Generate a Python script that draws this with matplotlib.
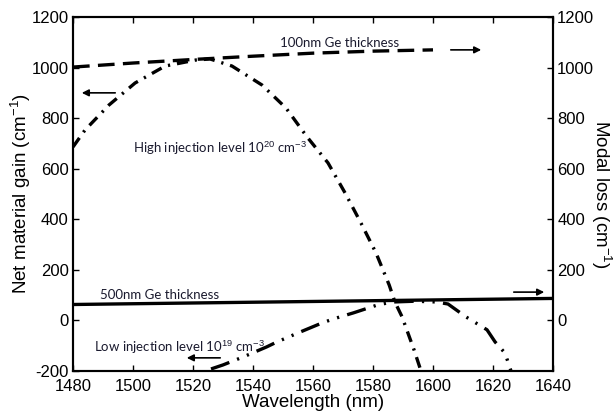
import matplotlib
matplotlib.use("Agg")
import matplotlib.pyplot as plt
import numpy as np

plt.rcParams['axes.unicode_minus'] = False
plt.rcParams['lines.scale_dashes'] = False
plt.rcParams['font.family'] = ['Liberation Sans', 'DejaVu Sans']
plt.rcParams['mathtext.fontset'] = 'custom'
plt.rcParams['mathtext.rm'] = 'Liberation Sans'

# Data
wl_100nm = [1480, 1500, 1520, 1540, 1560, 1580, 1600]
loss_100nm = [1002, 1018, 1032, 1045, 1057, 1065, 1070]

wl_500nm = [1480, 1640]
loss_500nm = [63, 87]

wl_high = [1480, 1484, 1492, 1500.7, 1510.7, 1521, 1525.7, 1533, 1543, 1551, 1558,
           1565, 1570.7, 1576, 1581, 1585.4, 1587.3, 1589.7, 1593.7, 1596]
gain_high = [686, 753, 852, 939, 1006, 1030, 1034, 1006, 931, 840, 726,
             623, 504, 385, 267, 140, 73, 14, -117, -200]

wl_low = [1526, 1530, 1536.8, 1544.5, 1548, 1555.7, 1563, 1566.8, 1573.5, 1581.7, 1586.7,
          1594, 1601, 1605, 1611, 1618, 1620.7, 1624, 1626]
gain_low = [-192, -176, -144, -105, -85, -46, -10, 6, 30, 62, 73,
            76, 73, 65, 14, -37, -85, -129, -200]

fig = plt.figure(figsize=(6.13, 4.19), dpi=100)
ax = fig.add_axes([73/613, 1-371/419, 480/613, 354/419])

ax.plot(wl_high, gain_high, color='black', lw=2.4, dashes=[8, 5, 1.6, 5])
ax.plot(wl_low, gain_low, color='black', lw=2.4, dashes=[14, 6, 1.6, 6, 1.6, 6])
ax.plot(wl_100nm, loss_100nm, color='black', lw=2.4, dashes=[12, 6])
ax.plot(wl_500nm, loss_500nm, color='black', lw=2.4)

ax.set_xlim(1480, 1640)
ax.set_ylim(-200, 1200)
ax.set_xticks(np.arange(1480, 1641, 20))
ax.set_yticks(np.arange(-200, 1201, 200))

ax2 = ax.twinx()
ax2.set_ylim(-200, 1200)
ax2.set_yticks(np.arange(0, 1201, 200))

for a in (ax, ax2):
    for s in a.spines.values():
        s.set_linewidth(1.5)
ax.tick_params(axis='y', direction='in', length=4, width=1, labelsize=12, right=False, pad=3)
ax.tick_params(axis='x', direction='in', length=4, width=1, labelsize=12, top=True, pad=6)
ax2.tick_params(direction='in', length=4, width=1, labelsize=12, pad=3)

ax.set_xlabel('Wavelength (nm)', fontsize=13.5, labelpad=0)
ax.set_ylabel('Net material gain (cm$^{-1}$)', fontsize=13.5, labelpad=-1)
ax2.set_ylabel('Modal loss (cm$^{-1}$)', fontsize=13.5, rotation=270, labelpad=14)

arrow = dict(arrowstyle='-|>', color='black', lw=1.2, mutation_scale=10)
ax.annotate('', xy=(1617, 1070), xytext=(1605, 1070), arrowprops=arrow)
ax.annotate('', xy=(1482, 900), xytext=(1495, 900), arrowprops=arrow)
ax.annotate('', xy=(1638, 112), xytext=(1626, 112), arrowprops=arrow)
ax.annotate('', xy=(1517, -148), xytext=(1530, -148), arrowprops=arrow)

tf = dict(fontsize=9.5, family='Lato', color='#1a1a2e')
ax.text(1549, 1097, '100nm Ge thickness', va='center', **tf)
ax.text(1500, 682, 'High injection level 10$^{20}$ cm$^{-3}$', va='center', **tf)
ax.text(1489, 100, '500nm Ge thickness', va='center', **tf)
ax.text(1487, -107, 'Low injection level 10$^{19}$ cm$^{-3}$', va='center', **tf)

fig.savefig('out.png', dpi=100)
